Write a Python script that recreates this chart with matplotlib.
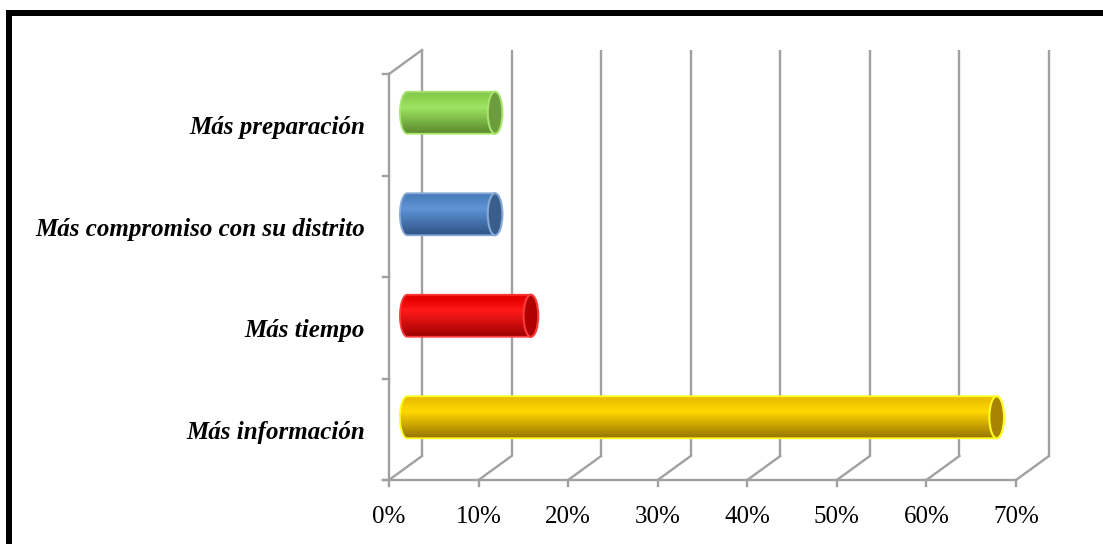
import numpy as np
import matplotlib
matplotlib.use("Agg")
import matplotlib.pyplot as plt
from matplotlib.path import Path
from matplotlib.patches import PathPatch, Ellipse
from matplotlib.colors import to_rgb
from matplotlib.lines import Line2D

# ---- data ----
categories = ["Más información", "Más tiempo",
              "Más compromiso con su distrito", "Más preparación"]
values = [66, 14, 10, 10]                      # percent
tick_values = [0, 10, 20, 30, 40, 50, 60, 70]
tick_labels = ["0%", "10%", "20%", "30%", "40%", "50%", "60%", "70%"]

# cylinder shading: (top, highlight, bottom, end face, outline)
palettes = [
    ("#EEC000", "#FFD800", "#977400", "#A88400", "#FFFF20"),
    ("#E80000", "#FF1A1A", "#9C0000", "#B00000", "#FF3A3A"),
    ("#4E80BE", "#5F94D8", "#2E5386", "#3A5E8C", "#86A9D6"),
    ("#88CE4C", "#9DE462", "#5A872C", "#6C9C3C", "#A8E470"),
]

W, H, DPI = 1103, 544, 100
fig = plt.figure(figsize=(W / DPI, H / DPI), dpi=DPI)
ax = fig.add_axes([0, 0, 1, 1])
ax.set_axis_off()

# axis scale: 0..70 % across the front floor edge, 4 category slots
px_per_pct = (1016 - 389) / 70.0
px_per_cat = (480 - 74) / 4.0
xlim = (-389 / px_per_pct, 70 + (W - 1016) / px_per_pct)
ylim = (-0.5 - (H - 480) / px_per_cat, 3.5 + 74 / px_per_cat)

# 3-D depth offset of the back wall
dx = 33 / px_per_pct
dy = 24 / px_per_cat

grid_c = "#A0A0A0"
glw = 1.7
xmax = tick_values[-1]
ybot, ytop = -0.5, len(categories) - 0.5

# back-wall vertical gridlines and floor diagonals
for v in tick_values:
    ax.plot([v + dx, v + dx], [ybot + dy, ytop + dy], color=grid_c, lw=glw,
            zorder=1, solid_capstyle="butt")
    ax.plot([v, v + dx], [ybot, ybot + dy], color=grid_c, lw=glw, zorder=1)
    ax.plot([v, v], [ybot, ybot - 0.06], color=grid_c, lw=glw, zorder=1)
# front floor edge and left wall
ax.plot([-0.7, xmax], [ybot, ybot], color=grid_c, lw=glw, zorder=1)
ax.plot([0, 0], [ybot, ytop], color=grid_c, lw=glw, zorder=1)
ax.plot([0, dx], [ytop, ytop + dy], color=grid_c, lw=glw, zorder=1)
for k in range(len(categories) + 1):
    yk = ybot + k
    ax.plot([-0.7, 0], [yk, yk], color=grid_c, lw=glw, zorder=1)

# cylinders
rx = 0.82           # half-width of the end ellipse (percent units)
bh = 0.414          # bar thickness (category units)
n = 200
for i, (v, pal) in enumerate(zip(values, palettes)):
    top, hi, bot, face, edge = [np.array(to_rgb(c)) for c in pal]
    x0 = dx / 2 + 0.2
    x1 = v + dx / 2
    yc = i + dy / 2
    yt, yb = yc + bh / 2, yc - bh / 2

    th = np.linspace(np.pi / 2, 3 * np.pi / 2, 60)
    left_x = x0 + rx * np.cos(th)
    left_y = yc + (bh / 2) * np.sin(th)
    xs = np.concatenate([[x1], left_x, [x1]])
    ys = np.concatenate([[yt], left_y, [yb]])
    verts = np.column_stack([xs, ys])
    verts = np.vstack([verts, verts[:1]])
    codes = [Path.MOVETO] + [Path.LINETO] * (len(verts) - 2) + [Path.CLOSEPOLY]
    body = PathPatch(Path(verts, codes), facecolor="none", edgecolor=edge,
                     lw=1.3, zorder=3)
    ax.add_patch(body)

    t = np.linspace(0, 1, n)
    stops_t = [0.0, 0.12, 0.38, 1.0]
    grad = np.zeros((n, 1, 3))
    for c in range(3):
        grad[:, 0, c] = np.interp(t, stops_t, [top[c] * 0.97, top[c], hi[c], bot[c]])
    im = ax.imshow(grad, extent=[x0 - rx, x1, yb, yt], aspect="auto",
                   origin="upper", zorder=2, interpolation="bilinear")
    im.set_clip_path(body)

    ax.add_patch(Ellipse((x1, yc), 2 * rx, bh, facecolor=face, edgecolor=edge,
                         lw=1.5, zorder=4))

# category labels
for i, name in enumerate(categories):
    ax.text(-2.7, i - 0.03, name, ha="right", va="center",
            family="Liberation Serif", fontweight="bold", fontstyle="italic",
            fontsize=18, color="black")

# x tick labels
for v, lab in zip(tick_values, tick_labels):
    ax.text(v, -0.86, lab, ha="center", va="center",
            family="Liberation Serif", fontsize=18, color="black")

ax.set_xlim(*xlim)
ax.set_ylim(*ylim)

# thick frame along the top and left
bw = 6 / DPI * 72
fig.add_artist(Line2D([9 / W, 9 / W], [0, 1 - 13 / H], color="black", lw=bw,
                      solid_capstyle="projecting", transform=fig.transFigure))
fig.add_artist(Line2D([9 / W, 1], [1 - 13 / H, 1 - 13 / H], color="black", lw=bw,
                      solid_capstyle="projecting", transform=fig.transFigure))

fig.savefig("out.png", dpi=DPI)
